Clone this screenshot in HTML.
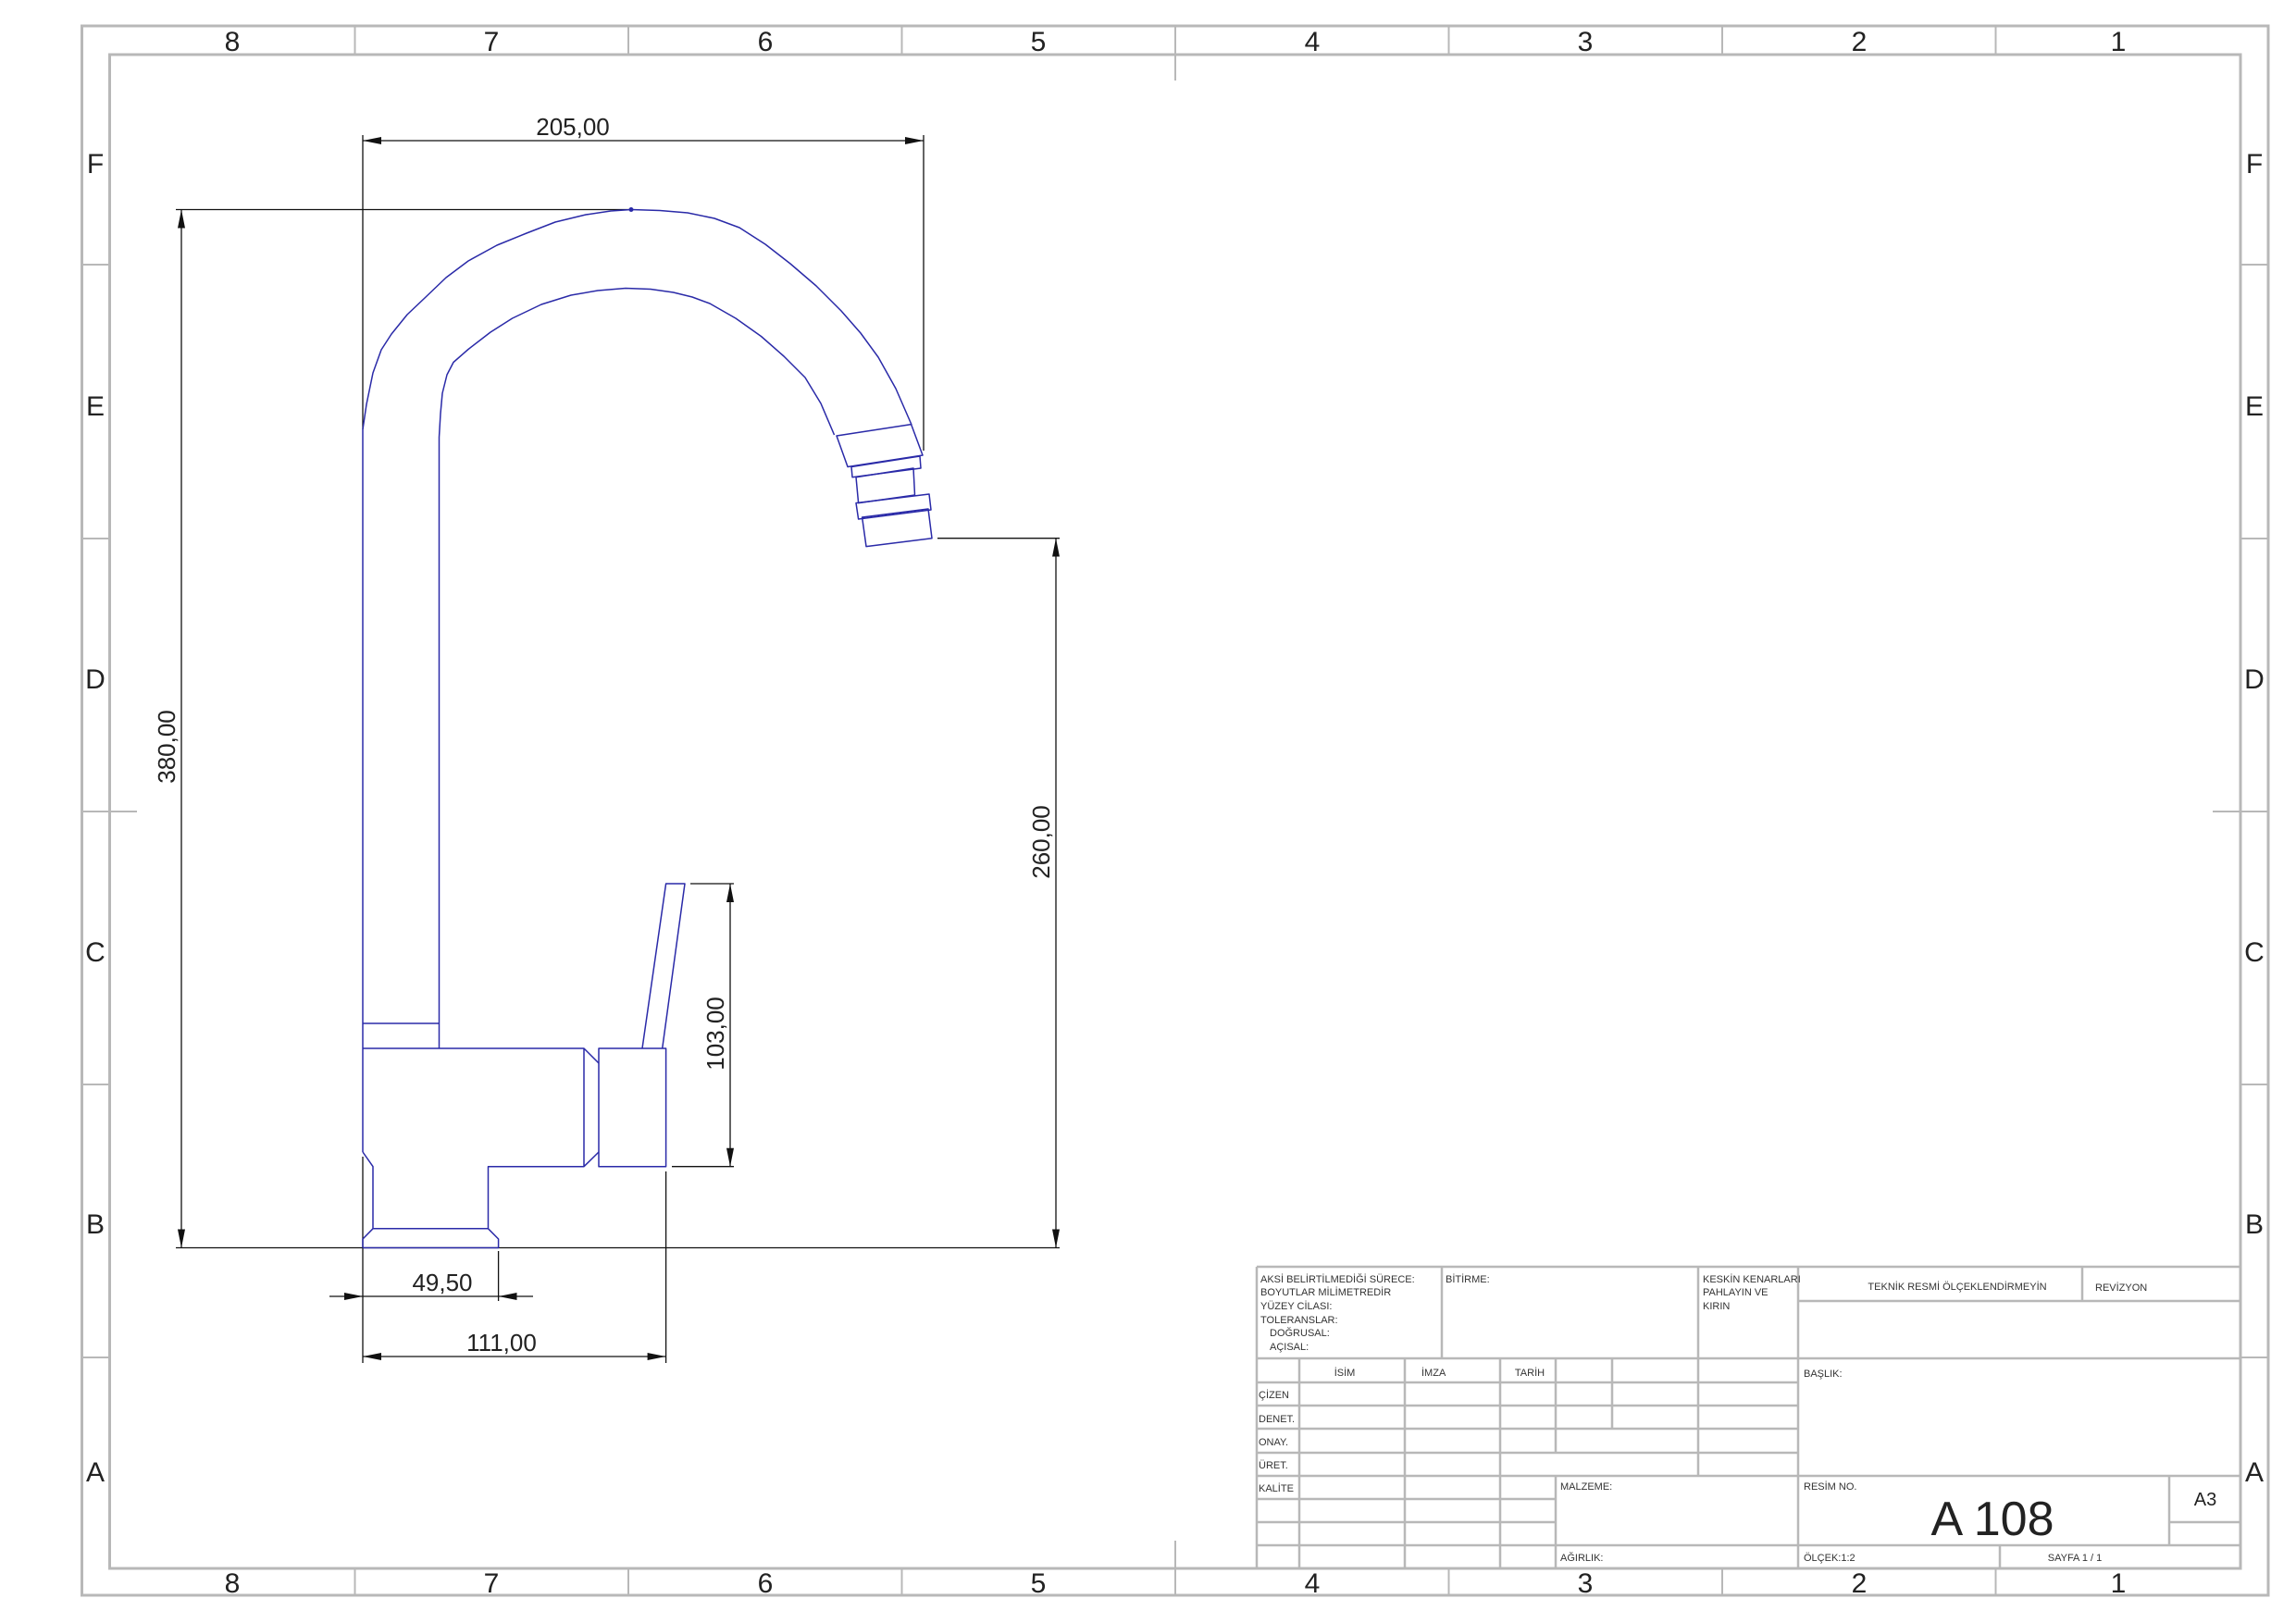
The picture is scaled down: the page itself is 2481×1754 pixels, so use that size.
<!DOCTYPE html>
<html><head><meta charset="utf-8"><style>
html,body{margin:0;padding:0;background:#fff;}
svg{display:block;}
text{font-family:"Liberation Sans","DejaVu Sans",sans-serif;}
</style></head><body>
<svg width="2481" height="1754" viewBox="0 0 2481 1754" xmlns="http://www.w3.org/2000/svg">
<defs>
<marker id="ar" viewBox="0 0 20 8" refX="20" refY="4" markerWidth="20" markerHeight="8" markerUnits="userSpaceOnUse" orient="auto-start-reverse">
<path d="M0,0 L20,4 L0,8 z" fill="#111"/></marker>
</defs>
<!-- frame -->
<g stroke="#b8b8b8" fill="none">
<rect x="88.5" y="28" width="2362.5" height="1696" stroke-width="3"/>
<rect x="118.5" y="59" width="2302.5" height="1636" stroke-width="3"/>
<g stroke-width="2">
<path d="M383.5 28V59M679 28V59M974.5 28V59M1270 28V59M1565.5 28V59M1861 28V59M2156.5 28V59"/>
<path d="M383.5 1695V1724M679 1695V1724M974.5 1695V1724M1270 1695V1724M1565.5 1695V1724M1861 1695V1724M2156.5 1695V1724"/>
<path d="M88.5 286H118.5M88.5 582H118.5M88.5 877H118.5M88.5 1172H118.5M88.5 1467H118.5"/>
<path d="M2421 286H2451M2421 582H2451M2421 877H2451M2421 1172H2451M2421 1467H2451"/>
<path d="M1270 59V87M1270 1695V1665M118.5 877H148M2421 877H2391"/>
</g></g>
<g font-size="30" fill="#222" text-anchor="middle">
<text x="251" y="55">8</text><text x="531" y="55">7</text><text x="827" y="55">6</text><text x="1122" y="55">5</text>
<text x="1418" y="55">4</text><text x="1713" y="55">3</text><text x="2009" y="55">2</text><text x="2289" y="55">1</text>
<text x="251" y="1721">8</text><text x="531" y="1721">7</text><text x="827" y="1721">6</text><text x="1122" y="1721">5</text>
<text x="1418" y="1721">4</text><text x="1713" y="1721">3</text><text x="2009" y="1721">2</text><text x="2289" y="1721">1</text>
<text x="103" y="187">F</text><text x="103" y="449">E</text><text x="103" y="744">D</text><text x="103" y="1039">C</text><text x="103" y="1333">B</text><text x="103" y="1601">A</text>
<text x="2436" y="187">F</text><text x="2436" y="449">E</text><text x="2436" y="744">D</text><text x="2436" y="1039">C</text><text x="2436" y="1333">B</text><text x="2436" y="1601">A</text>
</g>

<!-- title block -->
<g stroke="#b8b8b8" stroke-width="2.5" fill="none">
<path d="M1358 1369H2421M1358 1369V1695M1558 1369V1468M1835 1369V1468M1943 1369V1695M2250 1369V1406M1943 1406H2421M1358 1468H2421"/>
<path d="M1358 1494H1943M1358 1519H1943M1358 1544H1943M1358 1570H1943M1358 1595H2421M1358 1620H1681M1358 1645H1681M1358 1670H2421"/>
<path d="M1404 1468V1695M1518 1468V1695M1621 1468V1695M1681 1468V1570M1681 1595V1695M1742 1468V1544M1835 1468V1595"/>
<path d="M2344 1595V1670M2344 1645H2421M2161 1670V1695"/>
</g>
<g font-size="11" fill="#333">
<text x="1362" y="1386">AKSİ BELİRTİLMEDİĞİ SÜRECE:</text>
<text x="1362" y="1400">BOYUTLAR MİLİMETREDİR</text>
<text x="1362" y="1415">YÜZEY CİLASI:</text>
<text x="1362" y="1430">TOLERANSLAR:</text>
<text x="1372" y="1444">DOĞRUSAL:</text>
<text x="1372" y="1459">AÇISAL:</text>
<text x="1562" y="1386">BİTİRME:</text>
<text x="1840" y="1386">KESKİN KENARLARI</text>
<text x="1840" y="1400">PAHLAYIN VE</text>
<text x="1840" y="1415">KIRIN</text>
<text x="2115" y="1394" text-anchor="middle">TEKNİK RESMİ ÖLÇEKLENDİRMEYİN</text>
<text x="2264" y="1395">REVİZYON</text>
<text x="1453" y="1487" text-anchor="middle">İSİM</text>
<text x="1536" y="1487">İMZA</text>
<text x="1653" y="1487" text-anchor="middle">TARİH</text>
<text x="1360" y="1511">ÇİZEN</text>
<text x="1360" y="1537">DENET.</text>
<text x="1360" y="1562">ONAY.</text>
<text x="1360" y="1587">ÜRET.</text>
<text x="1360" y="1612">KALİTE</text>
<text x="1686" y="1610">MALZEME:</text>
<text x="1686" y="1687">AĞIRLIK:</text>
<text x="1949" y="1488">BAŞLIK:</text>
<text x="1949" y="1610">RESİM NO.</text>
<text x="1949" y="1687">ÖLÇEK:1:2</text>
<text x="2242" y="1687" text-anchor="middle">SAYFA 1 / 1</text>
</g>
<text x="2153" y="1659" font-size="52" fill="#222" text-anchor="middle">A 108</text>
<text x="2383" y="1627" font-size="20" fill="#222" text-anchor="middle">A3</text>

<!-- dimensions -->
<g stroke="#111" stroke-width="1.3" fill="none">
<path d="M392 146V464M998 146V487"/>
<path d="M392 152H998" marker-start="url(#ar)" marker-end="url(#ar)"/>
<path d="M190 226.5H682"/>
<path d="M196 226.5V1348.5" marker-start="url(#ar)" marker-end="url(#ar)"/>
<path d="M190 1348.5H1145"/>
<path d="M1013 581.7H1145"/>
<path d="M1141 581.7V1348.5" marker-start="url(#ar)" marker-end="url(#ar)"/>
<path d="M746 955H793M726 1260.7H793"/>
<path d="M789 955V1260.7" marker-start="url(#ar)" marker-end="url(#ar)"/>
<path d="M392 1250V1473M538.6 1352V1406M719.6 1266V1473"/>
<path d="M356 1401H392" marker-end="url(#ar)"/>
<path d="M576 1401H538.6" marker-end="url(#ar)"/>
<path d="M392 1401H538.6"/>
<path d="M392 1466H719.6" marker-start="url(#ar)" marker-end="url(#ar)"/>
</g>
<g font-size="26" fill="#222" text-anchor="middle">
<text x="619" y="146">205,00</text>
<text x="478" y="1395">49,50</text>
<text x="542" y="1460">111,00</text>
<text transform="translate(189,807) rotate(-90)">380,00</text>
<text transform="translate(1134,910) rotate(-90)">260,00</text>
<text transform="translate(782,1117) rotate(-90)">103,00</text>
</g>

<!-- faucet -->
<g stroke="#2a2aa8" stroke-width="1.5" fill="none" stroke-linejoin="round">
<path d="M392 1245V464 L396 437 L403 403 L412 378 L423 361 L440 340 L459 322 L482 300 L506 282 L537 265 L569 252 L600 240 L633 232 L660 228 L682 226.5 L713 227.5 L743 230 L772 236 L799 246 L827 264 L854 285 L882 309 L909 336 L930 360 L949 386 L968 420 L985 459"/>
<path d="M474.5 1133V472.6 L476 447 L478 425 L483 405 L490 391.5 L506 377.5 L530 359 L553.6 344 L585 329 L617 319 L646 314 L676 311.5 L703 312.5 L727.6 316 L748 321 L767 328 L795 344 L822.5 363.5 L847 385 L870 408 L887 436 L901.5 470"/>
<path d="M392 1106H474.5"/>
<path d="M392 1133H631L647 1149M631 1133V1260.7L647 1245M392 1245L403 1260.7V1327.8L392 1339V1348.5"/>
<path d="M631 1260.7H527.5V1327.8L538.6 1339V1348.5H392M403 1327.8H527.5"/>
<rect x="647" y="1133" width="72.6" height="127.7"/>
<path d="M694 1133L719.6 955H740L715.7 1133"/>
<path d="M904 471L984.6 458.6L997 492L916 504.5Z"/>
<path d="M920 504.5L994 493L995 506L921 515.7Z"/>
<path d="M925 515.7L987 506L988.5 535L927.6 543.6Z"/>
<path d="M925 543.6L1004 534L1006 551L927.6 561Z"/>
<path d="M931.6 559L1003 550L1007 581.7L936 590.6Z"/>
</g>
<circle cx="682" cy="226.5" r="2.5" fill="#2a2aa8"/>
</svg>
</body></html>
